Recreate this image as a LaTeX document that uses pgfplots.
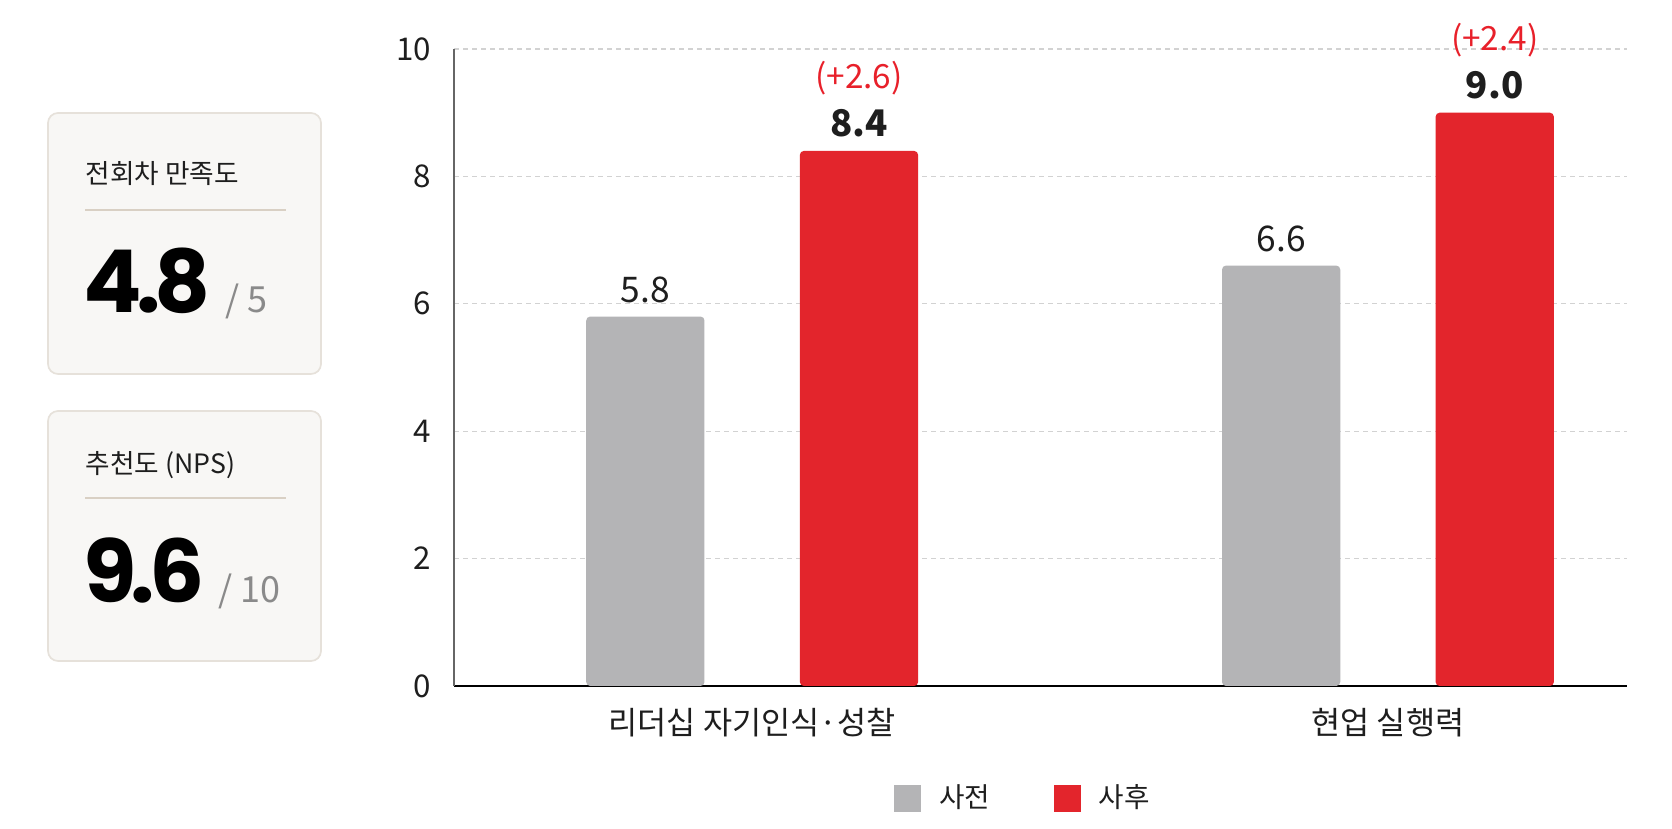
\documentclass[border=0pt]{standalone}
\usepackage{fontspec}
\setmainfont{Noto Sans CJK KR}
\newfontfamily\popp{Poppins}[LetterSpace=-7]
\usepackage{pgfplots}
\pgfplotsset{compat=1.18}

\definecolor{pregray}{HTML}{B4B4B6}
\definecolor{postred}{HTML}{E3252C}
\definecolor{deltared}{HTML}{E8202A}
\definecolor{cardbg}{HTML}{F8F7F5}
\definecolor{cardline}{HTML}{E6E1DA}
\definecolor{divline}{HTML}{D9D0C4}
\definecolor{gridc}{HTML}{D2D2D2}
\definecolor{txt}{HTML}{1E1E1E}
\definecolor{subtxt}{HTML}{8A8A8A}

\pgfplotsset{/pgf/number format/assume math mode=true}

\begin{document}
\begin{tikzpicture}
% summary cards, in pixel units of the reference
\begin{scope}[x=0.3pt,y=-0.3pt]
  \useasboundingbox (0,0) rectangle (1672,829);
  \fill[white] (0,0) rectangle (1672,829);
  \draw[cardline, fill=cardbg, rounded corners=3pt, line width=0.5pt] (48,113) rectangle (321,374);
  \draw[cardline, fill=cardbg, rounded corners=3pt, line width=0.5pt] (48,411) rectangle (321,661);
  \draw[divline, line width=0.6pt] (85,210) -- (286,210);
  \draw[divline, line width=0.6pt] (85,498) -- (286,498);
  \node[anchor=west, inner sep=0pt, text=txt, font=\fontsize{8}{10}\selectfont] at (85,174) {전회차 만족도};
  \node[anchor=west, inner sep=0pt, text=txt, font=\fontsize{8}{10}\selectfont] at (85,465) {추천도 (NPS)};
  \node[anchor=base west, inner sep=0pt, text=black, font=\popp\bfseries\fontsize{26}{30}\selectfont] at (83,313) {4.8};
  \node[anchor=base west, inner sep=0pt, text=subtxt, font=\fontsize{10.8}{12}\selectfont] at (225,313) {/ 5};
  \node[anchor=base west, inner sep=0pt, text=black, font=\popp\bfseries\fontsize{26}{30}\selectfont] at (83,603) {9.6};
  \node[anchor=base west, inner sep=0pt, text=subtxt, font=\fontsize{10.8}{12}\selectfont] at (218,603) {/ 10};
\end{scope}

\begin{axis}[
  at={(136.2pt,-205.8pt)}, anchor=south west,
  scale only axis, width=351.9pt, height=191.1pt,
  xmin=-0.469, xmax=1.376, ymin=0, ymax=10,
  axis x line*=bottom, axis y line*=left,
  x axis line style={black, line width=0.8pt},
  y axis line style={draw=black!60, line width=0.6pt},
  xtick={0,1},
  xticklabels={리더십 자기인식·성찰, 현업 실행력},
  ytick={0,2,4,6,8,10},
  major tick length=0pt,
  ymajorgrids,
  grid style={gridc, line width=0.4pt, dash pattern=on 1.5pt off 1.2pt},
  yticklabel style={text=txt, font=\fontsize{9.4}{11}\selectfont, inner sep=0pt, xshift=-6.6pt},
  xticklabel style={text=txt, font=\fontsize{9.5}{11}\selectfont, inner sep=0pt, yshift=-6.5pt},
  legend columns=2,
  legend style={at={(0.487,-0.177)}, anchor=center, draw=none, fill=none,
    font=\fontsize{8.3}{10}\selectfont, text=txt,
    /tikz/every odd column/.append style={column sep=3.5pt},
    /tikz/every even column/.append style={column sep=17pt}},
  legend image code/.code={\fill[#1, sharp corners] (0pt,-4.05pt) rectangle (8.1pt,4.05pt);},
  nodes near coords style={anchor=south, inner sep=0pt, text=txt},
]
\addplot[ybar, bar width=0.186, bar shift=-0.168, fill=pregray, draw=none, rounded corners=1.2pt,
  nodes near coords={\pgfmathprintnumber[fixed,fixed zerofill,precision=1]{\pgfplotspointmeta}},
  nodes near coords style={xshift=-32.04pt, yshift=4pt, font=\fontsize{10.6}{12}\selectfont}]
  coordinates {(0,5.8) (1,6.6)};
\addlegendentry{사전}
\addplot[ybar, bar width=0.186, bar shift=0.168, fill=postred, draw=none, rounded corners=1.2pt,
  nodes near coords={\textbf{\pgfmathprintnumber[fixed,fixed zerofill,precision=1]{\pgfplotspointmeta}}},
  nodes near coords style={xshift=32.04pt, yshift=4pt, font=\fontsize{11}{13}\selectfont}]
  coordinates {(0,8.4) (1,9.0)};
\addlegendentry{사후}
% change labels above the post bars
\addplot[ybar, bar width=0.186, bar shift=0.168, draw=none, fill=none, forget plot,
  point meta=explicit symbolic,
  nodes near coords={(+\pgfplotspointmeta)},
  nodes near coords style={xshift=32.04pt, yshift=16.5pt, text=deltared, font=\fontsize{10}{12}\selectfont}]
  coordinates {(0,8.4) [2.6] (1,9.0) [2.4]};
\end{axis}
\end{tikzpicture}
\end{document}
